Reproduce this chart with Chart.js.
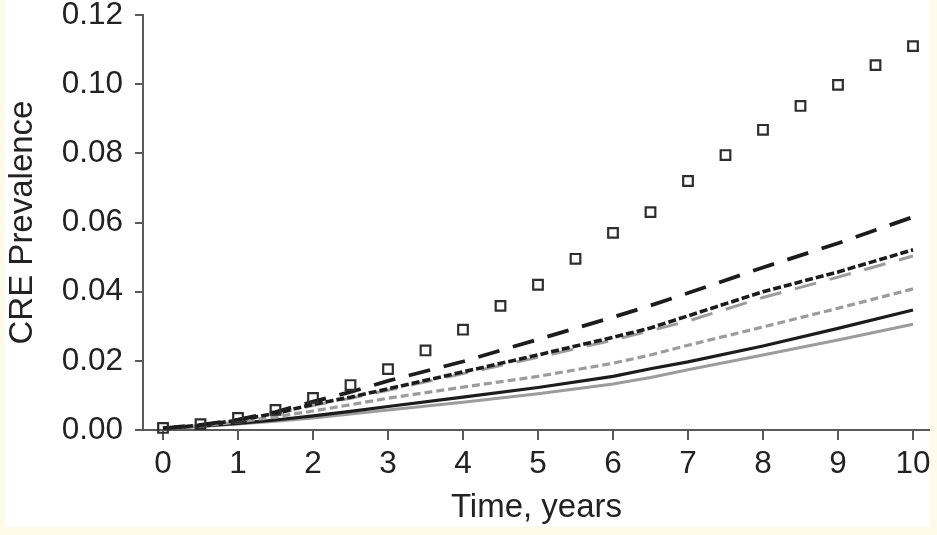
<!DOCTYPE html>
<html>
<head>
<meta charset="utf-8">
<script src="https://cdn.jsdelivr.net/npm/chart.js@4"></script>
<style>
  html, body { margin: 0; padding: 0; background: #fdfaea; }
  #box { position: absolute; left: 5px; top: 0; width: 925px; height: 527px; background: #ffffff; }
</style>
</head>
<body>
<div id="box"><canvas id="line-chart"></canvas></div>
<script>
// observed prevalence (squares), every half year
var squareYears = [0, 0.5, 1, 1.5, 2, 2.5, 3, 3.5, 4, 4.5, 5, 5.5, 6, 6.5, 7, 7.5, 8, 8.5, 9, 9.5, 10];
var squares = [0.0006, 0.0017, 0.0035, 0.0058, 0.0093, 0.013, 0.0176, 0.023, 0.029, 0.0359, 0.042,
               0.0495, 0.057, 0.063, 0.072, 0.0795, 0.0868, 0.0937, 0.0998, 0.1055, 0.111];

// model lines
var lineYears = [0, 0.5, 1, 1.5, 2, 2.5, 3, 4, 5, 6, 6.5, 7, 8, 9, 10];
var blackLongDash  = [0.0005, 0.0015, 0.003, 0.0052, 0.0082, 0.011, 0.0142, 0.0198, 0.0262, 0.0326, 0.036, 0.0396, 0.047, 0.054, 0.0616];
var blackShortDash = [0.0005, 0.0014, 0.0028, 0.0048, 0.0074, 0.0095, 0.0119, 0.0168, 0.0217, 0.0268, 0.0295, 0.033, 0.040, 0.0457, 0.0521];
var greyLongDash   = [0.0005, 0.0014, 0.0027, 0.0046, 0.0071, 0.0092, 0.0115, 0.0163, 0.021, 0.026, 0.0287, 0.0315, 0.0383, 0.0442, 0.0503];
var greyShortDash  = [0.0005, 0.0012, 0.0023, 0.0038, 0.0055, 0.0073, 0.0092, 0.0124, 0.0155, 0.0193, 0.0217, 0.0245, 0.0298, 0.0352, 0.0408];
var blackSolid     = [0.0005, 0.0011, 0.0019, 0.0029, 0.0041, 0.0054, 0.0068, 0.0095, 0.0123, 0.0155, 0.0177, 0.0197, 0.0243, 0.0294, 0.0347];
var greySolid      = [0.0005, 0.001, 0.0017, 0.0025, 0.0035, 0.0046, 0.0058, 0.008, 0.0105, 0.0133, 0.0152, 0.0174, 0.0217, 0.026, 0.0306];

var yTicks = [0, 0.02, 0.04, 0.06, 0.08, 0.10, 0.12];

function pairs(xs, ys) {
    return ys.map(function (v, i) { return {x: xs[i], y: v}; });
}

var BLACK = '#1c1c1c';
var GREY = '#9c9c9c';
var AXIS = '#5a5a5a';
var FONT = '"Liberation Sans", Arial, sans-serif';

function lineSet(data, color, width, dash) {
    return {
        data: pairs(lineYears, data),
        borderColor: color,
        borderWidth: width,
        borderDash: dash,
        pointRadius: 0,
        fill: false,
        tension: 0
    };
}

new Chart(document.getElementById("line-chart"), {
    type: 'line',
    data: {
      datasets: [
        {
          data: pairs(squareYears, squares),
          showLine: false,
          pointStyle: 'rect',
          pointRadius: 6.8,
          pointBorderWidth: 2.2,
          pointBorderColor: '#2e2e2e',
          pointBackgroundColor: 'rgba(0,0,0,0)',
          clip: false
        },
        lineSet(blackLongDash, BLACK, 3.8, [22, 14]),
        lineSet(blackShortDash, BLACK, 3.6, [8, 3]),
        lineSet(greyLongDash, GREY, 3, [22, 14]),
        lineSet(greyShortDash, GREY, 3.2, [8, 4]),
        lineSet(blackSolid, BLACK, 3.2, []),
        lineSet(greySolid, GREY, 3, [])
      ]
    },
    options: {
      responsive: true,
      maintainAspectRatio: false,
      animation: false,
      layout: { autoPadding: false, padding: { top: 15, left: 0, right: 0, bottom: 0 } },
      plugins: { legend: { display: false }, tooltip: { enabled: false } },
      scales: {
        x: {
          type: 'linear',
          min: -0.2667,
          max: 10.2267,
          ticks: {
            stepSize: 1,
            includeBounds: false,
            padding: 5,
            color: '#222',
            font: { family: FONT, size: 31.5 }
          },
          grid: { display: true, drawOnChartArea: false, tickLength: 10, color: AXIS, lineWidth: 2 },
          border: { display: true, color: AXIS, width: 2 },
          title: {
            display: true,
            text: 'Time, years',
            color: '#222',
            padding: { top: 0, bottom: 2.5 },
            font: { family: FONT, size: 33, lineHeight: 1 }
          },
          afterFit: function (scale) {
            scale.height = 97;
            scale.paddingLeft = 0;
            scale.paddingRight = 0;
          }
        },
        y: {
          type: 'linear',
          min: 0,
          max: 0.12,
          afterBuildTicks: function (scale) {
            scale.ticks = yTicks.map(function (v) { return {value: v}; });
          },
          ticks: {
            padding: 12,
            color: '#222',
            font: { family: FONT, size: 31.5 },
            callback: function (v) { return Number(v).toFixed(2); }
          },
          grid: { display: true, drawOnChartArea: false, tickLength: 8, color: AXIS, lineWidth: 2 },
          border: { display: true, color: AXIS, width: 2 },
          title: {
            display: true,
            text: 'CRE Prevalence',
            color: '#222',
            padding: { top: 1, bottom: 0 },
            font: { family: FONT, size: 33, lineHeight: 1 }
          },
          afterFit: function (scale) {
            scale.width = 138;
            scale.paddingTop = 0;
            scale.paddingBottom = 0;
          }
        }
      }
    }
  });
</script>
</body>
</html>
